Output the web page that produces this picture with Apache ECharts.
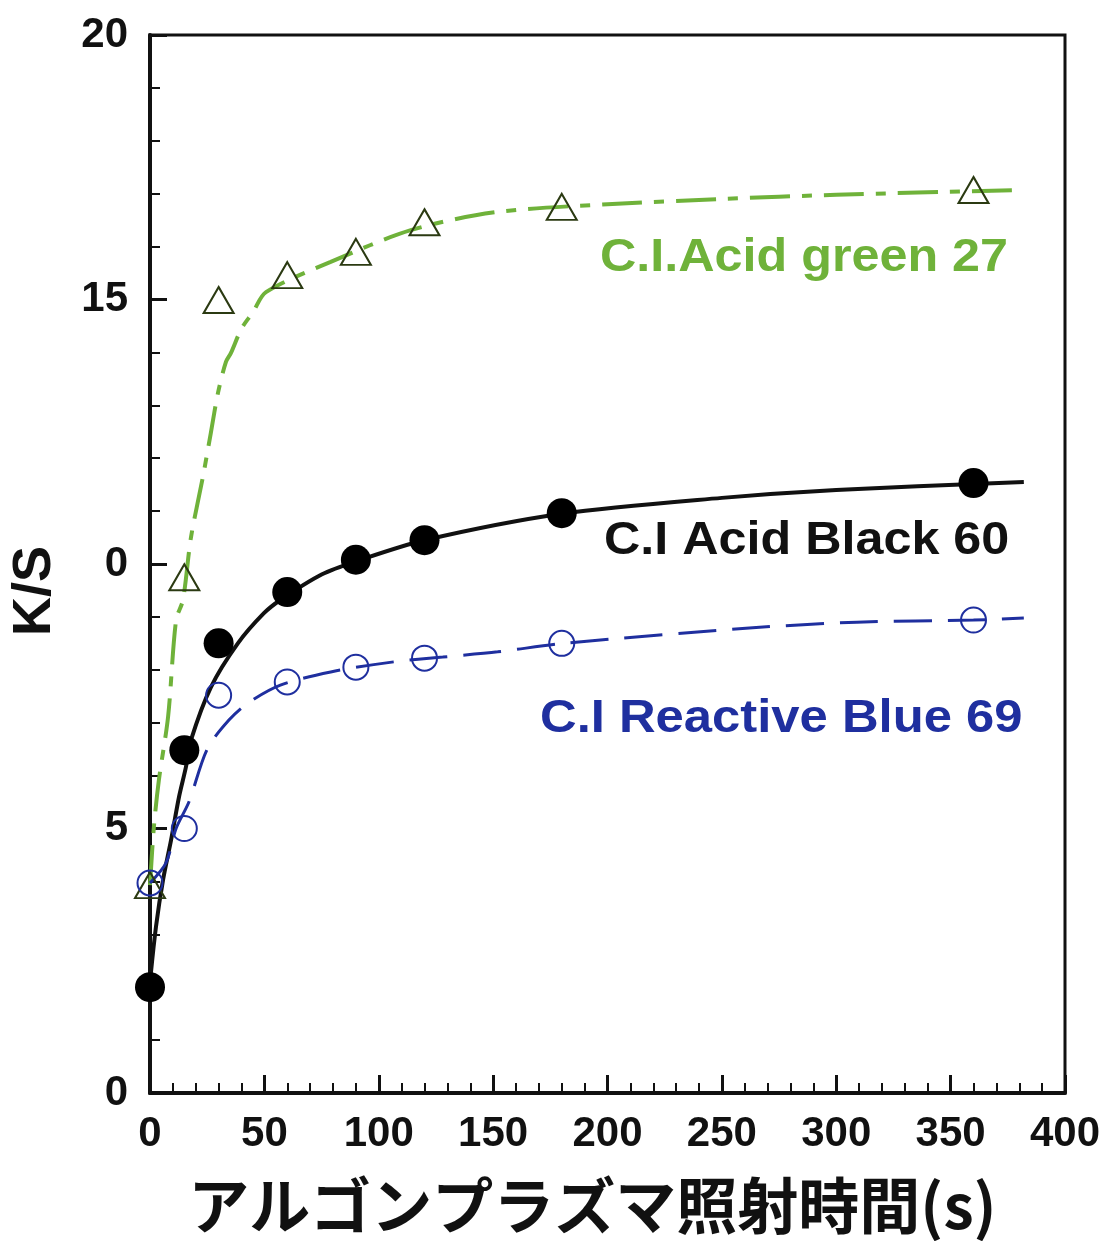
<!DOCTYPE html>
<html>
<head>
<meta charset="utf-8">
<title>K/S</title>
<script src="https://cdn.jsdelivr.net/npm/echarts@6/dist/echarts.min.js"></script>
<style>
  html, body { margin: 0; padding: 0; background: #fff; }
  #chart { width: 1112px; height: 1241px; }
</style>
</head>
<body>
<div id="chart"></div>
<script>
// measured points (time in s)
const timeS = [0, 15, 30, 60, 90, 120, 180, 360];
const blackKS = [2.0, 6.48, 8.5, 9.47, 10.08, 10.45, 10.96, 11.53];
const greenKS = [3.93, 9.75, 14.99, 15.46, 15.9, 16.46, 16.75, 17.07];
const blueKS = [3.97, 5.0, 7.52, 7.77, 8.05, 8.22, 8.5, 8.94];

// fitted curves
const blackCurveX = [0, 0.4, 2.6, 5.7, 9.2, 12.7, 15.7, 17.9, 26.6, 38.4, 49.8, 57, 75, 90, 120, 180, 250, 300, 382];
const blackCurveY = [2.0, 2.27, 3.14, 4.03, 4.78, 5.6, 6.16, 6.67, 7.67, 8.5, 9.07, 9.32, 9.8, 10.05, 10.45, 10.95, 11.25, 11.4, 11.55];
const greenCurveX = [0, 1.7, 3.9, 7.9, 11.4, 14.4, 17.9, 23.1, 26.6, 29.7, 33.2, 35.4, 40, 45, 50.7, 79, 114, 151, 200, 250, 300, 382];
const greenCurveY = [3.93, 5.03, 5.92, 7.11, 8.94, 9.32, 10.5, 11.64, 12.48, 13.23, 13.82, 13.99, 14.45, 14.76, 15.14, 15.71, 16.31, 16.65, 16.8, 16.9, 16.98, 17.07];
const blueCurveX = [0, 7, 11.4, 17, 25, 34.5, 42.8, 57, 79, 106.5, 128, 152, 181, 262, 309, 360, 382];
const blueCurveY = [3.97, 4.35, 5.0, 5.5, 6.5, 7.05, 7.37, 7.71, 7.96, 8.15, 8.24, 8.34, 8.5, 8.79, 8.9, 8.94, 8.98];

// y tick labels as printed (the "1" of 10 is missing in the original)
const yTickLabels = { 0: '0', 5: '5', 10: '0', 15: '15', 20: '20' };

const zip = (xs, ys) => xs.map((x, i) => [x, ys[i]]);

const black = '#111111';
const green = '#6fb23a';
const blue = '#1f2f9f';
const font = '"Liberation Sans", Arial, sans-serif';

const chart = echarts.init(document.getElementById('chart'));
chart.setOption({
  animation: false,
  backgroundColor: '#fff',
  grid: {
    left: 150, top: 35, right: 47, bottom: 148,
    show: true, borderColor: black, borderWidth: 3
  },
  xAxis: {
    type: 'value', min: 0, max: 400, interval: 50,
    name: 'アルゴンプラズマ照射時間(s)',
    nameLocation: 'middle', nameGap: 82,
    nameTextStyle: {
      fontFamily: '"Noto Sans CJK JP", sans-serif', fontSize: 61, fontWeight: 'bold', color: black,
      padding: [0, 30, 0, 0]
    },
    axisLine: { lineStyle: { color: black, width: 4 } },
    axisTick: { inside: true, length: 18, lineStyle: { color: black, width: 3 } },
    minorTick: { show: true, splitNumber: 5, length: 10, lineStyle: { color: black, width: 2 } },
    axisLabel: { margin: 20, fontFamily: font, fontSize: 42, fontWeight: 'bold', color: black },
    splitLine: { show: false }
  },
  yAxis: {
    type: 'value', min: 0, max: 20, interval: 5,
    name: 'K/S', nameLocation: 'middle', nameGap: 88, nameRotate: 90,
    nameTextStyle: {
      fontFamily: font, fontSize: 54, fontWeight: 'bold', color: black,
      padding: [0, 54, 0, 0]
    },
    axisLine: { lineStyle: { color: black, width: 4 } },
    axisTick: { inside: true, length: 17, lineStyle: { color: black, width: 3 } },
    minorTick: { show: true, splitNumber: 5, length: 10, lineStyle: { color: black, width: 2 } },
    axisLabel: {
      margin: 22, fontFamily: font, fontSize: 42, fontWeight: 'bold', color: black,
      formatter: v => yTickLabels[v]
    },
    splitLine: { show: false }
  },
  series: [
    {
      name: 'green curve', type: 'line', smooth: 0.3, showSymbol: false,
      data: zip(greenCurveX, greenCurveY),
      lineStyle: { color: green, width: 4, type: [40, 12, 10, 12] }, z: 2
    },
    {
      name: 'black curve', type: 'line', smooth: 0.3, showSymbol: false,
      data: zip(blackCurveX, blackCurveY),
      lineStyle: { color: black, width: 4 }, z: 2
    },
    {
      name: 'blue curve', type: 'line', smooth: 0.3, showSymbol: false,
      data: zip(blueCurveX, blueCurveY),
      lineStyle: { color: blue, width: 3, type: [38, 16] }, z: 2
    },
    {
      name: 'C.I.Acid green 27', type: 'scatter', symbol: 'triangle', symbolSize: [30, 26],
      data: zip(timeS, greenKS),
      itemStyle: { color: 'rgba(255,255,255,0)', borderColor: '#2b3a12', borderWidth: 2, opacity: 1 }, z: 4
    },
    {
      name: 'C.I Acid Black 60', type: 'scatter', symbol: 'circle', symbolSize: 30,
      data: zip(timeS, blackKS),
      itemStyle: { color: '#000', opacity: 1 }, z: 5
    },
    {
      name: 'C.I Reactive Blue 69', type: 'scatter', symbol: 'circle', symbolSize: 25,
      data: zip(timeS, blueKS),
      itemStyle: { color: 'rgba(255,255,255,0)', borderColor: blue, borderWidth: 2, opacity: 1 }, z: 4
    }
  ],
  graphic: [
    { type: 'text', left: 600, top: 235, scaleX: 1.07, style: { text: 'C.I.Acid green 27', fill: green, font: 'bold 47px ' + font } },
    { type: 'text', left: 604, top: 518, scaleX: 1.07, style: { text: 'C.I Acid Black 60', fill: black, font: 'bold 47px ' + font } },
    { type: 'text', left: 540, top: 696, scaleX: 1.08, style: { text: 'C.I Reactive Blue 69', fill: blue, font: 'bold 47px ' + font } }
  ]
});
window.onresize = function () {
  chart.resize();
};
</script>
</body>
</html>
